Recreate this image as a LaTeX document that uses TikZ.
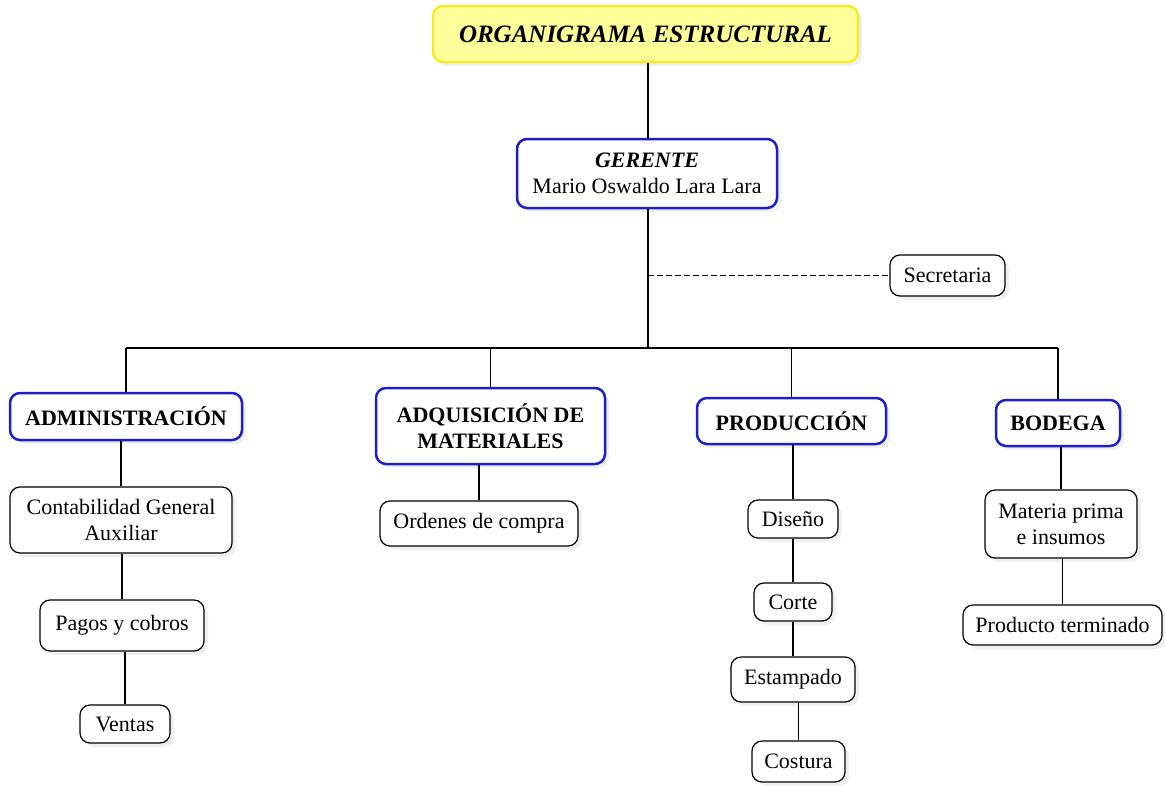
\documentclass[tikz,border=0pt]{standalone}
\usepackage{fontspec}
\setmainfont{Liberation Serif}
\usepackage{xcolor}
\usetikzlibrary{positioning,shadows}

\definecolor{amarillo}{RGB}{255,255,153}
\definecolor{bordeamarillo}{RGB}{245,235,40}
\definecolor{azul}{RGB}{30,30,200}

\tikzset{
    sombra/.style={drop shadow={opacity=0.12, shadow xshift=4pt, shadow yshift=-4pt}},
    titulo/.style={draw=bordeamarillo, fill=amarillo, line width=2.5pt, rounded corners=10pt,
        inner sep=0pt, sombra, font=\fontsize{25}{30}\selectfont\bfseries\itshape},
    jefe/.style={draw=azul, fill=white, line width=2.5pt, rounded corners=10pt, inner sep=0pt,
        align=center, sombra, font=\fontsize{22}{26}\selectfont},
    area/.style={jefe, font=\fontsize{22}{26}\selectfont\bfseries},
    tarea/.style={draw=black, fill=white, line width=1.2pt, rounded corners=10pt, inner sep=0pt,
        align=center, sombra, font=\fontsize{22}{26}\selectfont},
    linea/.style={line width=1.3pt}
}

\begin{document}
\begin{tikzpicture}[x=1pt, y=-1pt]
    \useasboundingbox (0,0) rectangle (1165,785);

    % cabecera
    \node [titulo, minimum width=425pt, minimum height=56pt] (titulo) at (645.5,34) {ORGANIGRAMA ESTRUCTURAL};
    \node [jefe, minimum width=260pt, minimum height=69pt] (gerente) at (647,173.5) {\textbf{\textit{GERENTE}}\\Mario Oswaldo Lara Lara};
    \node [tarea, minimum width=115pt, minimum height=41pt] (secretaria) at (947.5,275.5) {Secretaria};
    \coordinate (bus) at (648,348);

    % areas
    \node [area, minimum width=232pt, minimum height=47pt] (admin) at (126,416.5) {ADMINISTRACIÓN};
    \node [area, minimum width=229pt, minimum height=76pt] (adq) at (490.5,426) {ADQUISICIÓN DE\\MATERIALES};
    \node [area, minimum width=189pt, minimum height=46pt] (prod) at (791.5,421) {PRODUCCIÓN};
    \node [area, minimum width=124pt, minimum height=46pt] (bodega) at (1058,423) {BODEGA};

    % tareas
    \node [tarea, minimum width=222pt, minimum height=66pt] (conta) at (121,520) {Contabilidad General\\Auxiliar};
    \node [tarea, minimum width=164pt, minimum height=51pt] (pagos) at (122,625.5) {Pagos y cobros};
    \node [tarea, minimum width=90pt, minimum height=38pt] (ventas) at (125,724) {Ventas};
    \node [tarea, minimum width=198pt, minimum height=45pt] (ordenes) at (479,523.5) {Ordenes de compra};
    \node [tarea, minimum width=90pt, minimum height=38pt] (diseno) at (793,519) {Diseño};
    \node [tarea, minimum width=78pt, minimum height=38pt] (corte) at (793,602) {Corte};
    \node [tarea, minimum width=124pt, minimum height=45pt] (estampado) at (793,679.5) {Estampado};
    \node [tarea, minimum width=93pt, minimum height=41pt] (costura) at (798.5,761.5) {Costura};
    \node [tarea, minimum width=152pt, minimum height=68pt] (materia) at (1061,524) {Materia prima\\e insumos};
    \node [tarea, minimum width=199pt, minimum height=40pt] (producto) at (1062.5,625) {Producto terminado};

    % conexiones
    \draw [linea] (titulo.south -| bus) -- (gerente.north -| bus);
    \draw [linea] (gerente.south -| bus) -- (bus);
    \draw [linea, dash pattern=on 6pt off 3pt] (secretaria.west -| bus) -- (secretaria.west);
    \draw [linea] (admin.north |- bus) -- (bodega.north |- bus);
    \foreach \a in {admin,adq,prod,bodega}
        \draw [linea] (\a.north |- bus) -- (\a.north);
    \draw [linea] (conta.north) -- (conta.north |- admin.south);
    \draw [linea] (pagos.north) -- (pagos.north |- conta.south);
    \draw [linea] (ventas.north) -- (ventas.north |- pagos.south);
    \draw [linea] (ordenes.north) -- (ordenes.north |- adq.south);
    \draw [linea] (diseno.north) -- (diseno.north |- prod.south);
    \draw [linea] (corte.north) -- (corte.north |- diseno.south);
    \draw [linea] (estampado.north) -- (estampado.north |- corte.south);
    \draw [linea] (costura.north) -- (costura.north |- estampado.south);
    \draw [linea] (materia.north) -- (materia.north |- bodega.south);
    \draw [linea] (producto.north) -- (producto.north |- materia.south);
\end{tikzpicture}
\end{document}
